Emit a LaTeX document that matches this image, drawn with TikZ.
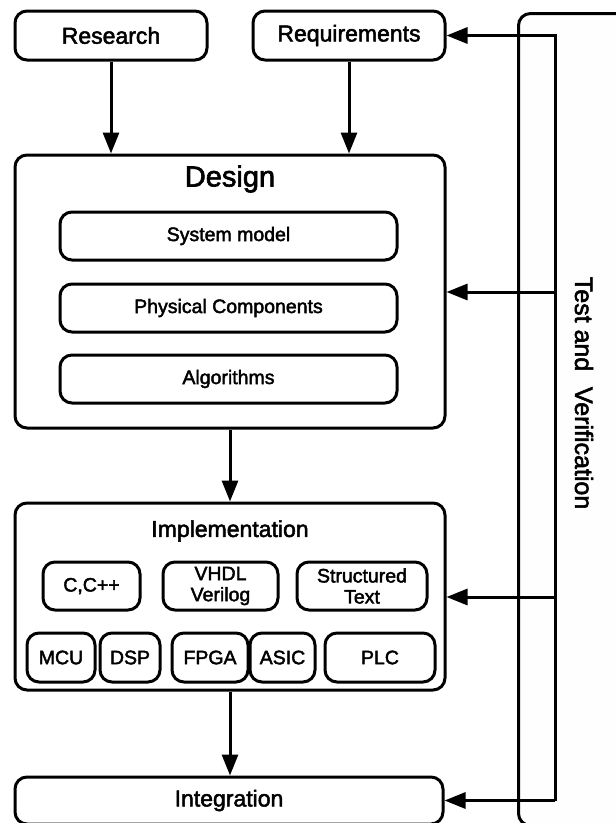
\documentclass[tikz,border=0pt]{standalone}
\usepackage{fontspec}
\setmainfont{Liberation Sans}[FakeBold=2.2]
\usetikzlibrary{arrows.meta}
\tikzset{
  box/.style={draw=black, line width=3pt, rounded corners=12pt, fill=white, inner sep=0pt, align=center},
  bigtxt/.style={font=\fontsize{23}{26}\selectfont},
  smalltxt/.style={font=\fontsize{19.5}{21}\selectfont},
  titletxt/.style={font=\fontsize{29}{31}\selectfont},
  conn/.style={line width=3pt, line join=miter},
  arr/.style={conn, -{Triangle[width=16pt,length=21pt]}}
}
\begin{document}
\begin{tikzpicture}[x=1pt,y=-1pt]
\useasboundingbox (0,0) rectangle (616,823);

% Test and Verification box
\node[box, fill=white!99.5!black, minimum width=150pt, minimum height=812pt, anchor=north west] (test) at (517,12) {};
\node[rotate=-90, font=\fontsize{25}{28}\selectfont] (testlabel) at (584,393) {Test and\hspace{0.35em} Verification};

% Top boxes
\node[box, bigtxt, minimum width=192pt, minimum height=49pt] (research) at (111,35.5) {Research};
\node[box, bigtxt, minimum width=192pt, minimum height=49pt] (req) at (349,35.5) {Requirements};

% Design
\node[box, minimum width=430pt, minimum height=273pt] (design) at (230,291.5) {};
\node[titletxt] (designlabel) at (230,179) {Design};
\node[box, smalltxt, minimum width=337pt, minimum height=48pt] (sysmodel) at (228.5,236) {System model};
\node[box, smalltxt, minimum width=337pt, minimum height=48pt] (phys) at (228.5,308) {Physical Components};
\node[box, smalltxt, minimum width=337pt, minimum height=48pt] (algo) at (228.5,379) {Algorithms};

% Implementation
\node[box, minimum width=430pt, minimum height=187pt] (impl) at (230,596.5) {};
\node[bigtxt] (impllabel) at (230,531) {Implementation};
\node[box, smalltxt, minimum width=97pt, minimum height=48pt] (cpp) at (91.5,586) {C,C++};
\node[box, smalltxt, minimum width=115pt, minimum height=48pt] (vhdl) at (220.5,586) {VHDL\\Verilog};
\node[box, smalltxt, minimum width=130pt, minimum height=48pt] (st) at (362,586) {Structured\\Text};
\node[box, smalltxt, minimum width=68pt, minimum height=49pt] (mcu) at (61,657.5) {MCU};
\node[box, smalltxt, minimum width=60pt, minimum height=49pt] (dsp) at (130,657.5) {DSP};
\node[box, smalltxt, minimum width=76pt, minimum height=49pt] (fpga) at (210,657.5) {FPGA};
\node[box, smalltxt, minimum width=65pt, minimum height=49pt] (asic) at (282.5,657.5) {ASIC};
\node[box, smalltxt, minimum width=110pt, minimum height=49pt] (plc) at (380,657.5) {PLC};

% Integration
\node[box, bigtxt, minimum width=428pt, minimum height=47pt] (integ) at (229,800.5) {Integration};

% Forward arrows
\draw[arr] (research.south) -- (research.south |- design.north);
\draw[arr] (req.south) -- (req.south |- design.north);
\draw[arr] (design.south) -- (impl.north);
\draw[arr] (impl.south) -- (impl.south |- integ.north);

% Feedback bus
\coordinate (fb1) at (555,35.5);
\coordinate (fb2) at (555,292);
\coordinate (fb3) at (555,597);
\coordinate (fb4) at (555,800.5);
\draw[arr] (fb4) -- (fb1) -- (req.east);
\draw[arr] (fb2) -- (fb2 -| design.east);
\draw[arr] (fb3) -- (fb3 -| impl.east);
\draw[arr] (fb4) -- (integ.east);
\end{tikzpicture}
\end{document}
